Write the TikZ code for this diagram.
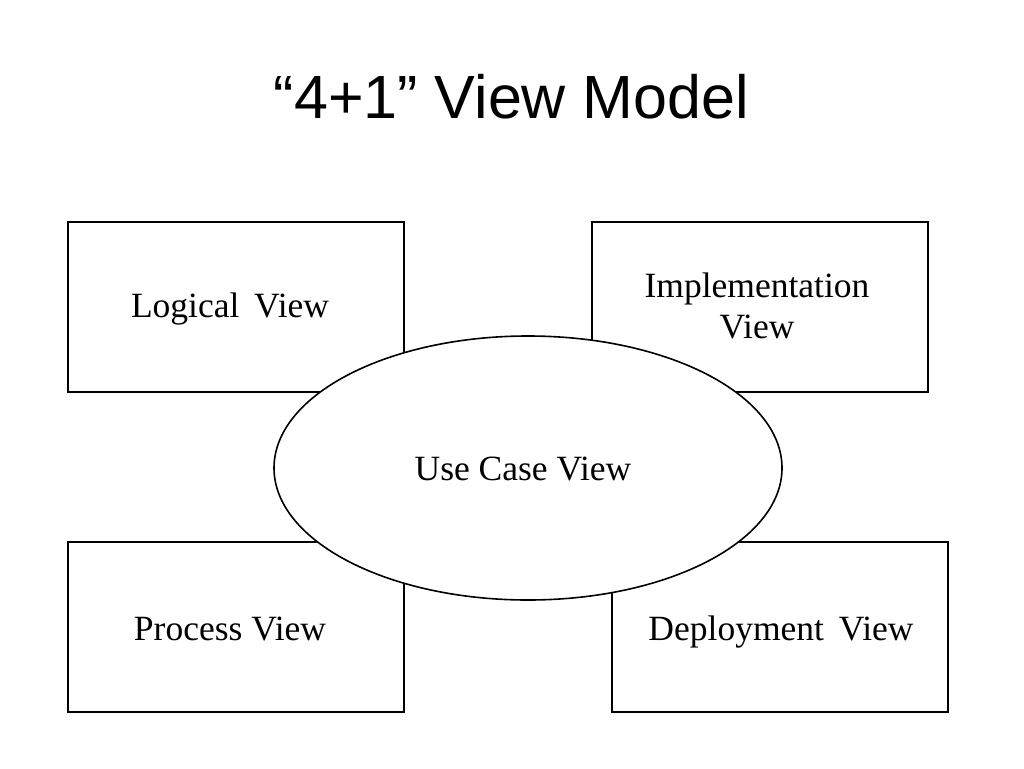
\documentclass[tikz,border=0pt]{standalone}
\usepackage{fontspec}
\setmainfont{Liberation Serif}
\newfontfamily\titlefont{Liberation Sans}
\usetikzlibrary{shapes.geometric}
\tikzset{
  viewbox/.style={draw=black, line width=2pt, fill=white, inner sep=0pt, minimum width=336pt, minimum height=170pt},
  hub/.style={ellipse, draw=black, line width=1.6pt, fill=white, inner sep=0pt, minimum width=508pt, minimum height=264pt},
  lbl/.style={anchor=base, inner sep=0pt, font=\fontsize{35.5}{41}\selectfont},
}
\begin{document}
\begin{tikzpicture}[x=1pt,y=-1pt]
\useasboundingbox (0,0) rectangle (1024,768);
\fill[white] (0,0) rectangle (1024,768);
\node[anchor=base, inner sep=0pt, font=\titlefont\fontsize{61}{67}\selectfont] (title) at (511.5,118) {“4+1” View Model};
\node[viewbox] (logical) at (235.5,306.5) {};
\node[viewbox] (impl) at (759.5,306.5) {};
\node[viewbox] (process) at (235.5,626.5) {};
\node[viewbox] (deploy) at (780,626.5) {};
\node[hub] (usecase) at (528,468) {};
\node[lbl] (tlogical) at (230,317) {Logical\, View};
\node[lbl] (timpl1) at (757,297) {Implementation};
\node[lbl] (timpl2) at (757,338) {View};
\node[lbl] (tusecase) at (523,480) {Use Case View};
\node[lbl] (tprocess) at (230,640) {Process View};
\node[lbl] (tdeploy) at (781,640) {Deployment\, View};
\end{tikzpicture}
\end{document}
